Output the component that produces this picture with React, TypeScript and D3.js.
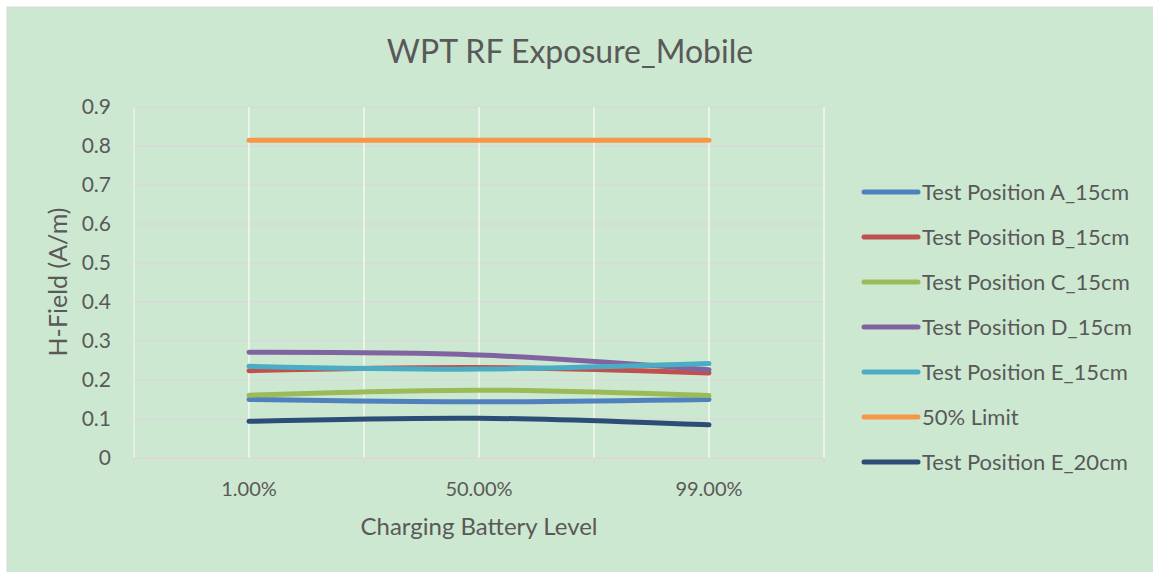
import { useEffect, useRef } from "react";
import * as d3 from "d3";

const W = 1153;
const H = 572;
const BG = "#CDE8D0";
const TXT = "#595959";
const FONT = "Lato, 'Open Sans', sans-serif";

const categories = ["1.00%", "50.00%", "99.00%"];
const yTicks = [0, 0.1, 0.2, 0.3, 0.4, 0.5, 0.6, 0.7, 0.8, 0.9];

const seriesNames = [
  "Test Position A_15cm",
  "Test Position B_15cm",
  "Test Position C_15cm",
  "Test Position D_15cm",
  "Test Position E_15cm",
  "50% Limit",
  "Test Position E_20cm",
];
const seriesColors = ["#4F81BD", "#C0504D", "#9BBB59", "#8064A2", "#4BACC6", "#F79646", "#2C4D75"];

const posA15 = [0.150, 0.144, 0.150];
const posB15 = [0.224, 0.232, 0.218];
const posC15 = [0.161, 0.174, 0.160];
const posD15 = [0.271, 0.264, 0.226];
const posE15 = [0.235, 0.228, 0.242];
const limit50 = [0.815, 0.815, 0.815];
const posE20 = [0.094, 0.102, 0.085];

const seriesValues = [posA15, posB15, posC15, posD15, posE15, limit50, posE20];

function drawChart(svgEl: SVGSVGElement) {
  const svg = d3.select(svgEl);
  svg.selectAll("*").remove();

  // chart frame
  svg.append("rect").attr("width", W).attr("height", H).attr("fill", "#ffffff");
  svg.append("rect")
    .attr("x", 7).attr("y", 7)
    .attr("width", W).attr("height", H)
    .attr("fill", BG)
    .attr("stroke", "#D9D9D9").attr("stroke-width", 1);

  const plot = { left: 134, right: 824, top: 107, bottom: 458 };

  const x = d3.scaleBand<string>()
    .domain(categories)
    .range([plot.left, plot.right]);
  const y = d3.scaleLinear().domain([0, 0.9]).range([plot.bottom, plot.top]);

  const g = svg.append("g");

  // horizontal gridlines
  g.append("g")
    .selectAll("line")
    .data(yTicks)
    .join("line")
    .attr("x1", plot.left).attr("x2", plot.right)
    .attr("y1", d => y(d)).attr("y2", d => y(d))
    .attr("stroke", "#D9D9D9").attr("stroke-width", 1.5);

  // vertical gridlines: category boundaries and centres
  const bounds = categories.map(c => x(c)!).concat([plot.right]);
  const centres = categories.map(c => x(c)! + x.bandwidth() / 2);
  g.append("g")
    .selectAll("line")
    .data(bounds.slice(1).concat(centres))
    .join("line")
    .attr("x1", d => d).attr("x2", d => d)
    .attr("y1", plot.top).attr("y2", plot.bottom)
    .attr("stroke", "#F4F8F4").attr("stroke-width", 1.5);
  g.append("line")
    .attr("x1", plot.left).attr("x2", plot.left)
    .attr("y1", plot.top).attr("y2", plot.bottom)
    .attr("stroke", "#F4F8F4").attr("stroke-width", 1);

  // x axis
  const xAxis = g.append("g")
    .attr("transform", `translate(0,${plot.bottom})`)
    .call(d3.axisBottom(x).tickSize(0).tickPadding(24));
  xAxis.select(".domain").attr("stroke", "#D9D9D9").attr("stroke-width", 1.5);
  xAxis.selectAll("text")
    .attr("fill", TXT)
    .style("font-size", "20px")
    .style("font-family", FONT);
  g.append("g")
    .selectAll("line")
    .data(bounds)
    .join("line")
    .attr("x1", d => d).attr("x2", d => d)
    .attr("y1", plot.bottom).attr("y2", plot.bottom + 6)
    .attr("stroke", "#D9D9D9").attr("stroke-width", 1.5);

  // y axis labels
  const yAxis = g.append("g")
    .attr("transform", `translate(${plot.left},0)`)
    .call(d3.axisLeft(y).tickValues(yTicks).tickSize(0).tickPadding(23).tickFormat(d => String(+(+d).toFixed(1))));
  yAxis.select(".domain").remove();
  yAxis.selectAll("text")
    .attr("fill", TXT)
    .style("font-size", "21px")
    .style("font-family", FONT);

  // lines
  const line = d3.line<number>()
    .x((_, i) => x(categories[i])! + x.bandwidth() / 2)
    .y(d => y(d))
    .curve(d3.curveCatmullRom.alpha(0.5));

  seriesValues.forEach((vals, i) => {
    g.append("path")
      .datum(vals)
      .attr("fill", "none")
      .attr("stroke", seriesColors[i])
      .attr("stroke-width", 5)
      .attr("stroke-linecap", "round")
      .attr("stroke-linejoin", "round")
      .attr("d", line);
  });

  // title
  svg.append("text")
    .attr("x", 570).attr("y", 63)
    .attr("text-anchor", "middle")
    .attr("fill", TXT)
    .style("font-size", "32px")
    .style("font-family", FONT)
    .text("WPT RF Exposure_Mobile");

  // axis titles
  svg.append("text")
    .attr("transform", `translate(67,282) rotate(-90)`)
    .attr("text-anchor", "middle")
    .attr("fill", TXT)
    .style("font-size", "25px")
    .style("font-family", FONT)
    .text("H-Field (A/m)");

  svg.append("text")
    .attr("x", 479).attr("y", 535)
    .attr("text-anchor", "middle")
    .attr("fill", TXT)
    .style("font-size", "24px")
    .style("font-family", FONT)
    .text("Charging Battery Level");

  // legend
  const leg = svg.append("g");
  seriesNames.forEach((name, i) => {
    const ly = 192 + i * 45;
    leg.append("line")
      .attr("x1", 864).attr("x2", 918)
      .attr("y1", ly).attr("y2", ly)
      .attr("stroke", seriesColors[i])
      .attr("stroke-width", 5)
      .attr("stroke-linecap", "round");
    leg.append("text")
      .attr("x", 922).attr("y", ly + 8)
      .attr("fill", TXT)
      .style("font-size", "22px")
      .style("font-family", FONT)
      .text(name);
  });
}

export default function App() {
  const svgRef = useRef<SVGSVGElement>(null);

  useEffect(() => {
    if (svgRef.current) drawChart(svgRef.current);
  }, []);

  return (
    <div style={{ position: "absolute", left: 0, top: 0, width: W, height: H, overflow: "hidden" }}>
      <svg ref={svgRef} width={W} height={H} style={{ display: "block" }} />
    </div>
  );
}
